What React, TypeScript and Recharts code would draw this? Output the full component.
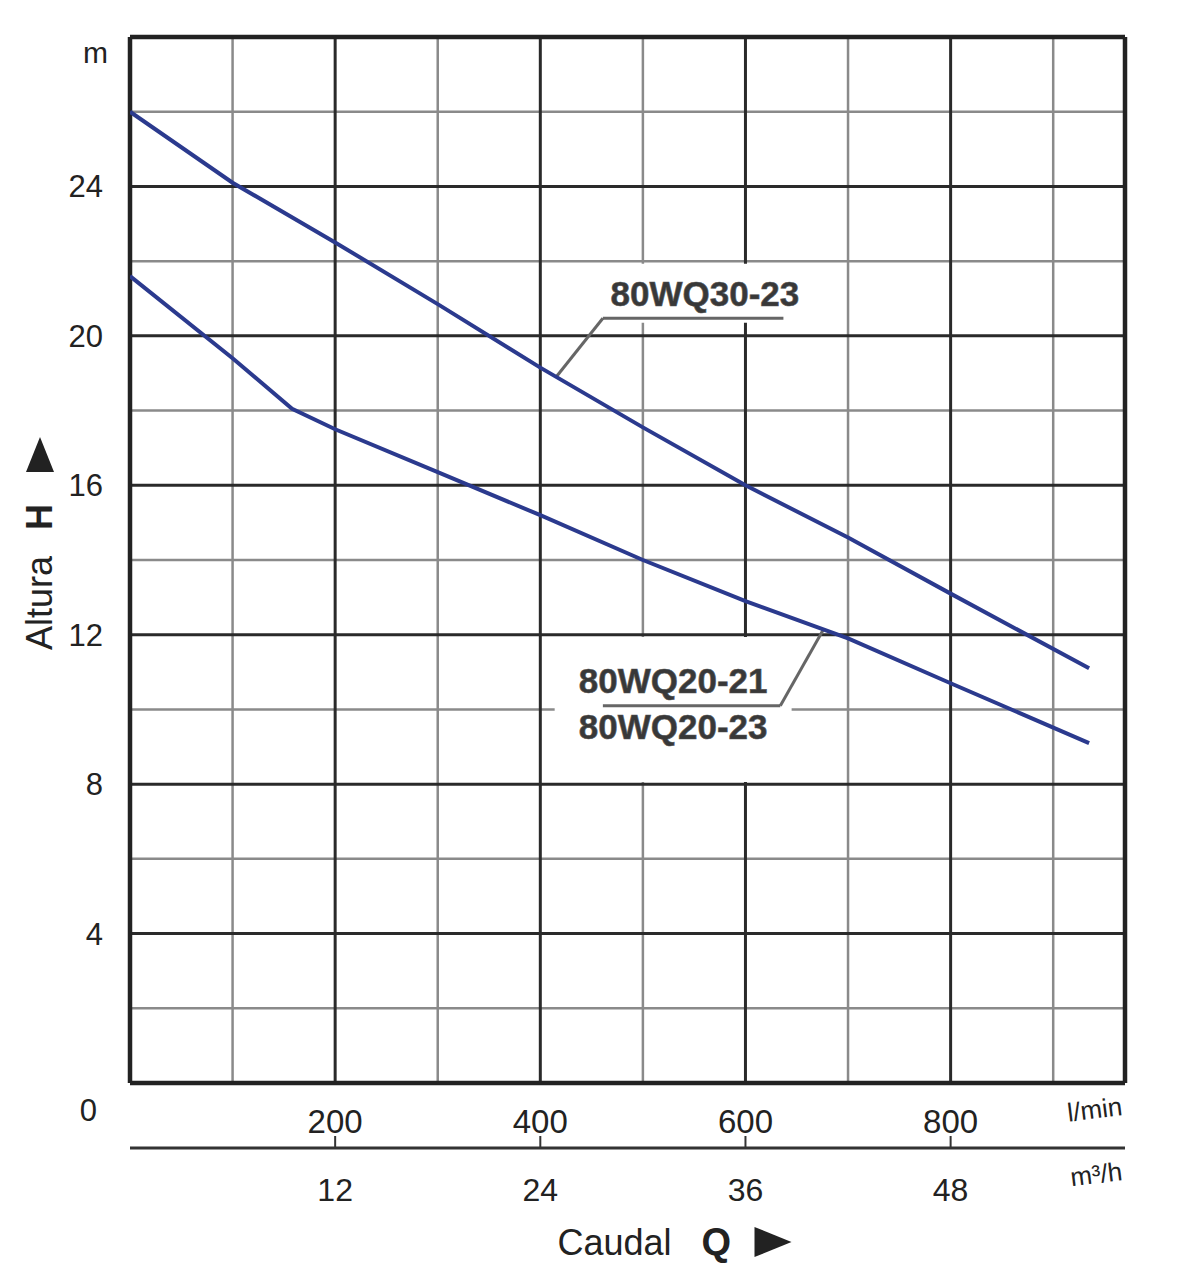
import { LineChart, Line, XAxis, YAxis, ReferenceLine, ReferenceArea } from "recharts";

// Q in l/min, H in m
const flowA = [0, 100, 200, 300, 400, 500, 600, 700, 800, 935];
const headA = [26.0, 24.1, 22.5, 20.85, 19.15, 17.55, 16.0, 14.6, 13.1, 11.1];
const flowB = [0, 100, 158, 200, 300, 400, 500, 600, 700, 800, 935];
const headB = [21.6, 19.4, 18.05, 17.5, 16.35, 15.2, 14.0, 12.9, 11.9, 10.7, 9.1];

const lminTicks = [0, 200, 400, 600, 800];
const m3hTicks = [12, 24, 36, 48];
const headTicks = [4, 8, 12, 16, 20, 24, 28];
const majorQ = [200, 400, 600, 800];
const minorQ = [100, 300, 500, 700, 900];
const majorH = [4, 8, 12, 16, 20, 24];
const minorH = [2, 6, 10, 14, 18, 22, 26];

const Q_MAX = 970;
const H_MAX = 28;
const LMIN_TO_M3H = 60 / 1000;

const seriesA = flowA.map((q, i) => ({ q, h: headA[i] }));
const seriesB = flowB.map((q, i) => ({ q, h: headB[i] }));

const FONT = "'Liberation Sans', Arial, sans-serif";
const INK = "#222";
const BLUE = "#2b3a8e";

// annotation placement (data units)
const leaderA = [
  { x: 416, y: 18.92 },
  { x: 461, y: 20.47 },
  { x: 637, y: 20.47 },
];
const leaderB = [
  { x: 461, y: 10.1 },
  { x: 634, y: 10.1 },
  { x: 676, y: 12.14 },
];

const HeadTick = ({ x, y, payload }: any) => {
  if (payload.value === 28) {
    return (
      <text x={x - 22} y={y + 26} textAnchor="end" fontSize={30} fill={INK} fontFamily={FONT}>
        m
      </text>
    );
  }
  return (
    <text x={x - 27} y={y + 11} textAnchor="end" fontSize={31} fill={INK} fontFamily={FONT}>
      {payload.value}
    </text>
  );
};

// l/min labels, plus the matching m³/h tick on the lower scale
const FlowTick = ({ x, y, payload }: any) => {
  const v = payload.value;
  if (v === 0) {
    return (
      <text x={x - 33} y={y + 38} textAnchor="end" fontSize={31} fill={INK} fontFamily={FONT}>
        0
      </text>
    );
  }
  const m3 = Math.round(v * LMIN_TO_M3H);
  return (
    <g>
      <text x={x} y={y + 50} textAnchor="middle" fontSize={33} fill={INK} fontFamily={FONT}>
        {v}
      </text>
      {m3hTicks.includes(m3) && (
        <g>
          <line x1={x} x2={x} y1={y + 65} y2={y + 53} stroke="#333" strokeWidth={2} />
          <text x={x} y={y + 118} textAnchor="middle" fontSize={32} fill={INK} fontFamily={FONT}>
            {m3}
          </text>
        </g>
      )}
    </g>
  );
};

const boxText = (lines: string[], dy: number[]) => (props: any) => {
  const vb = props.viewBox;
  const cx = vb.x + vb.width / 2;
  return (
    <g>
      {lines.map((t, i) => (
        <text
          key={t}
          x={cx}
          y={vb.y + dy[i]}
          textAnchor="middle"
          fontSize={35}
          fontWeight="bold"
          fill="#383838"
          fontFamily={FONT}
          stroke="#555"
          strokeWidth={0.6}
        >
          {t}
        </text>
      ))}
    </g>
  );
};

const unitLmin = (props: any) => {
  const vb = props.viewBox;
  const x = vb.x + vb.width - 2;
  const y = vb.y + 32;
  return (
    <text x={x} y={y} textAnchor="end" fontSize={26} fill={INK} fontFamily={FONT} transform={`rotate(-7 ${x} ${y})`}>
      l/min
    </text>
  );
};

const unitM3h = (props: any) => {
  const vb = props.viewBox;
  const x = vb.x + vb.width - 2;
  const y = vb.y + 32;
  const cx = vb.x + vb.width / 2 - 70;
  const by = vb.y + 107;
  return (
    <g>
      <text x={x} y={y} textAnchor="end" fontSize={26} fill={INK} fontFamily={FONT} transform={`rotate(-7 ${x} ${y})`}>
        m³/h
      </text>
      <text x={cx} y={by} fontSize={36} fill={INK} fontFamily={FONT}>
        Caudal
        <tspan dx={30} fontWeight="bold" fontSize={38}>Q</tspan>
      </text>
      <polygon points={`${cx + 197},${by - 28} ${cx + 234},${by - 13} ${cx + 197},${by + 2}`} fill={INK} />
    </g>
  );
};

const headLabel = (props: any) => {
  const vb = props.viewBox;
  const bx = vb.x + 52;
  const cy = vb.y + vb.height / 2;
  const sy = cy + 90;
  return (
    <g>
      <text x={bx} y={sy} fontSize={36} fill={INK} fontFamily={FONT} transform={`rotate(-90 ${bx} ${sy})`}>
        Altura
        <tspan dx={26} fontWeight="bold">H</tspan>
      </text>
      <polygon points={`${bx - 26},${cy - 88} ${bx - 12},${cy - 123} ${bx + 2},${cy - 88}`} fill={INK} />
    </g>
  );
};

export default function App() {
  return (
    <div style={{ position: "absolute", left: 0, top: 0, background: "#fff" }}>
      <LineChart width={1183} height={1280} margin={{ top: 37, right: 58, left: 0, bottom: 0 }}>
        <XAxis
          xAxisId="lmin"
          type="number"
          dataKey="q"
          domain={[0, Q_MAX]}
          ticks={lminTicks}
          interval={0}
          height={65}
          axisLine={false}
          tickLine={false}
          tickSize={0}
          tickMargin={0}
          tick={<FlowTick />}
          label={unitLmin}
          allowDataOverflow
        />
        <XAxis
          xAxisId="m3h"
          type="number"
          domain={[0, Q_MAX * LMIN_TO_M3H]}
          ticks={m3hTicks}
          height={132}
          axisLine={{ stroke: "#333", strokeWidth: 3 }}
          tickLine={false}
          tick={false}
          label={unitM3h}
          allowDataOverflow
        />
        <YAxis
          type="number"
          domain={[0, H_MAX]}
          ticks={headTicks}
          interval={0}
          width={130}
          axisLine={false}
          tickLine={false}
          tickSize={0}
          tickMargin={0}
          tick={<HeadTick />}
          label={headLabel}
          allowDataOverflow
        />

        {minorQ.map((q) => (
          <ReferenceLine key={`vq${q}`} xAxisId="lmin" x={q} stroke="#8a8a8a" strokeWidth={2.5} zIndex={-90} />
        ))}
        {minorH.map((h) => (
          <ReferenceLine key={`vh${h}`} xAxisId="lmin" y={h} stroke="#8a8a8a" strokeWidth={2.5} zIndex={-90} />
        ))}
        {majorQ.map((q) => (
          <ReferenceLine key={`mq${q}`} xAxisId="lmin" x={q} stroke="#2a2a2a" strokeWidth={3} zIndex={-89} />
        ))}
        {majorH.map((h) => (
          <ReferenceLine key={`mh${h}`} xAxisId="lmin" y={h} stroke="#2a2a2a" strokeWidth={3} zIndex={-89} />
        ))}

        <ReferenceArea
          xAxisId="lmin"
          x1={458}
          x2={663}
          y1={20.35}
          y2={21.93}
          fill="#fff"
          fillOpacity={1}
          stroke="none"
          zIndex={-80}
          label={boxText(["80WQ30-23"], [42])}
        />
        <ReferenceArea
          xAxisId="lmin"
          x1={414}
          x2={645}
          y1={8.06}
          y2={11.94}
          fill="#fff"
          fillOpacity={1}
          stroke="none"
          zIndex={-80}
          label={boxText(["80WQ20-21", "80WQ20-23"], [56, 102])}
        />

        <ReferenceLine xAxisId="lmin" x={0} stroke={INK} strokeWidth={4.5} zIndex={-70} />
        <ReferenceLine xAxisId="lmin" x={Q_MAX} stroke={INK} strokeWidth={4.5} zIndex={-70} />
        <ReferenceLine xAxisId="lmin" y={0} stroke={INK} strokeWidth={4.5} zIndex={-70} />
        <ReferenceLine xAxisId="lmin" y={H_MAX} stroke={INK} strokeWidth={4.5} zIndex={-70} />

        <ReferenceLine xAxisId="lmin" segment={[leaderA[0], leaderA[1]]} stroke="#666" strokeWidth={3} zIndex={-60} />
        <ReferenceLine xAxisId="lmin" segment={[leaderA[1], leaderA[2]]} stroke="#666" strokeWidth={3} zIndex={-60} />
        <ReferenceLine xAxisId="lmin" segment={[leaderB[0], leaderB[1]]} stroke="#666" strokeWidth={3} zIndex={-60} />
        <ReferenceLine xAxisId="lmin" segment={[leaderB[1], leaderB[2]]} stroke="#666" strokeWidth={3} zIndex={-60} />

        <Line
          xAxisId="lmin"
          data={seriesA}
          dataKey="h"
          type="linear"
          stroke={BLUE}
          strokeWidth={4}
          dot={false}
          isAnimationActive={false}
        />
        <Line
          xAxisId="lmin"
          data={seriesB}
          dataKey="h"
          type="linear"
          stroke={BLUE}
          strokeWidth={4}
          dot={false}
          isAnimationActive={false}
        />
      </LineChart>
    </div>
  );
}
